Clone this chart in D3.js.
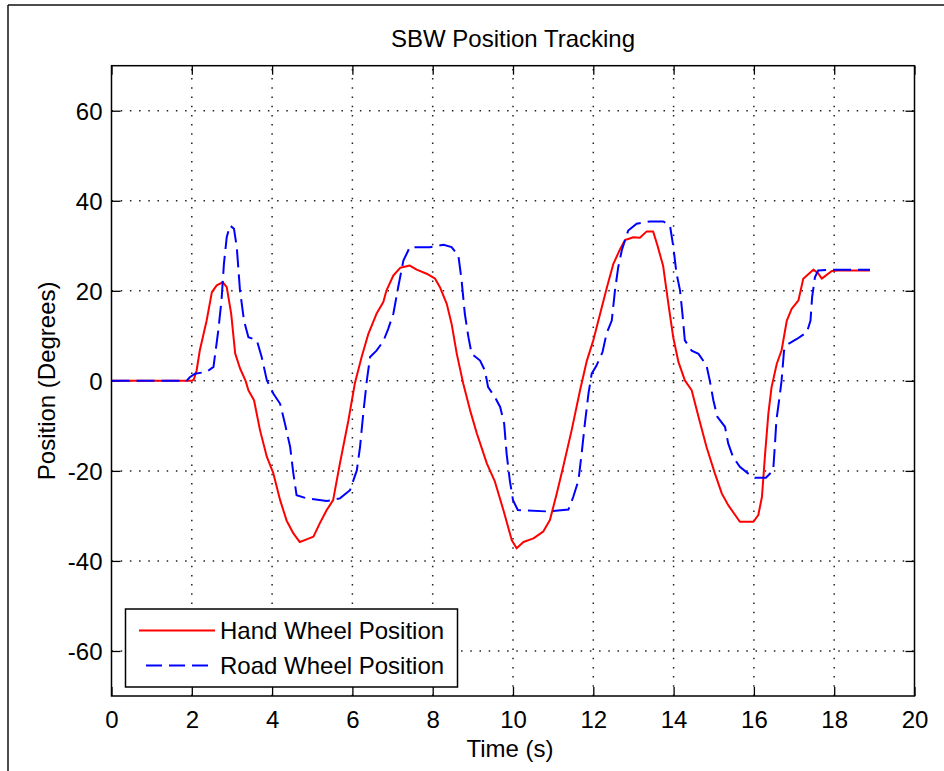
<!DOCTYPE html>
<html>
<head>
<meta charset="utf-8">
<script src="https://cdn.jsdelivr.net/npm/d3@7"></script>
<style>
  html, body { margin: 0; padding: 0; background: #fff; }
  svg { display: block; }
  text { font-family: "Liberation Sans", Arial, sans-serif; fill: #000; }
</style>
</head>
<body>
<svg id="chart" width="944" height="771"></svg>
<script>
// ---- Data ----
const titleText = "SBW Position Tracking";
const xLabel = "Time (s)";
const yLabel = "Position (Degrees)";
const seriesNames = ["Hand Wheel Position", "Road Wheel Position"];
const xTicks = [0, 2, 4, 6, 8, 10, 12, 14, 16, 18, 20];
const yTicks = [-60, -40, -20, 0, 20, 40, 60];
const xTickLabels = ["0", "2", "4", "6", "8", "10", "12", "14", "16", "18", "20"];
const yTickLabels = ["-60", "-40", "-20", "0", "20", "40", "60"];

const handTime = [0, 2.0, 2.05, 2.12, 2.2, 2.37, 2.5, 2.62, 2.77, 2.87, 2.98, 3.08, 3.2, 3.34, 3.41, 3.55, 3.7, 3.87, 4.03, 4.2, 4.36, 4.53, 4.69, 4.86, 5.03, 5.19, 5.36, 5.52, 5.69, 5.9, 6.06, 6.23, 6.4, 6.6, 6.77, 6.85, 7.02, 7.19, 7.43, 7.6, 7.85, 8.06, 8.18, 8.35, 8.47, 8.6, 8.76, 8.93, 9.1, 9.35, 9.55, 9.76, 9.97, 10.09, 10.26, 10.51, 10.75, 10.92, 11.09, 11.25, 11.46, 11.67, 11.84, 12.0, 12.17, 12.34, 12.5, 12.67, 12.79, 13.0, 13.16, 13.33, 13.49, 13.6, 13.74, 13.87, 13.99, 14.12, 14.28, 14.45, 14.62, 14.82, 15.03, 15.2, 15.36, 15.65, 15.99, 16.11, 16.2, 16.28, 16.36, 16.44, 16.57, 16.69, 16.82, 16.94, 17.11, 17.23, 17.48, 17.6, 17.69, 17.94, 18.1, 18.89];
const handPos = [0, 0, 0.3, 2.3, 6.8, 13.4, 19.7, 21.2, 21.9, 20.8, 15, 6.1, 2.8, 0, -2.1, -4.3, -11, -16.9, -20.5, -26.5, -31, -33.9, -35.8, -35.2, -34.6, -31.6, -28.7, -26.5, -18.3, -8.8, -0.6, 5.3, 10.5, 14.9, 17.5, 20.1, 23.4, 25.1, 25.6, 24.7, 23.8, 22.7, 20.8, 17.1, 12.7, 6, -0.6, -6.5, -11.7, -18.4, -22.4, -28.7, -35.4, -37.2, -35.8, -35, -33.5, -30.9, -25, -19.1, -11, -2.1, 4.5, 9, 14.9, 20.8, 26, 29.3, 31.3, 31.9, 31.8, 33.2, 33.2, 30, 25.5, 17.1, 9.7, 4.2, 0.1, -2.1, -8, -14.7, -20.6, -25, -27.6, -31.3, -31.3, -29.8, -25.8, -16.1, -7.3, -1.4, 3.8, 6.8, 13.4, 16, 17.9, 22.7, 24.7, 23.9, 22.7, 24.4, 24.5, 24.5];

const roadTime = [0, 1.87, 1.95, 2.08, 2.37, 2.54, 2.66, 2.74, 2.8, 2.87, 2.95, 3.05, 3.12, 3.2, 3.3, 3.41, 3.62, 3.74, 3.87, 4.03, 4.2, 4.32, 4.45, 4.53, 4.61, 4.86, 5.36, 5.69, 5.94, 6.11, 6.19, 6.27, 6.36, 6.44, 6.6, 6.77, 6.89, 7.02, 7.14, 7.27, 7.43, 7.93, 8.27, 8.47, 8.64, 8.72, 8.8, 8.89, 8.97, 9.18, 9.3, 9.38, 9.55, 9.68, 9.78, 9.84, 9.92, 10.0, 10.12, 10.84, 11.38, 11.5, 11.63, 11.71, 11.79, 11.88, 11.96, 12.08, 12.23, 12.33, 12.46, 12.54, 12.62, 12.71, 12.87, 13.08, 13.41, 13.74, 13.91, 13.99, 14.07, 14.16, 14.22, 14.28, 14.45, 14.62, 14.82, 14.9, 14.99, 15.09, 15.28, 15.36, 15.48, 15.65, 15.86, 16.02, 16.3, 16.48, 16.52, 16.56, 16.65, 16.69, 16.75, 16.86, 17.07, 17.32, 17.41, 17.45, 17.52, 17.6, 17.94, 18.89];
const roadPos = [0, 0, 0.8, 1.6, 2.0, 3.1, 11.2, 17.9, 26, 31.9, 34.5, 33.8, 29.7, 20.1, 13.4, 9.7, 9, 5.3, 0.1, -2.8, -5.1, -9.5, -14.7, -20.6, -25.4, -26.1, -26.7, -26.1, -24.3, -19.9, -14.7, -7.3, 0.1, 5.3, 6.7, 8.8, 11.5, 14.9, 20.8, 26.7, 29.7, 29.7, 30.2, 29.7, 27.8, 22.3, 14.9, 9.7, 6, 4.5, 2.3, -1.4, -3.6, -5.8, -9.5, -16.1, -22.1, -26.5, -28.7, -29, -28.6, -25.8, -22.1, -16.1, -9.5, -2.8, 1.6, 3.4, 6.4, 10.5, 13.4, 20.1, 25.2, 29, 33.4, 34.9, 35.4, 35.4, 34.5, 30, 24, 20.1, 14.9, 9, 6.7, 6, 3.4, 0.1, -4.3, -8, -10.2, -13.9, -16.9, -19.1, -20.6, -21.5, -21.5, -19.9, -14.7, -8.8, -2.8, 0.1, 6.7, 8.2, 9.3, 10.8, 13.4, 18.6, 23, 24.5, 24.7, 24.7];

const seriesColors = ["#ff0000", "#0000ff"];

// ---- Layout ----
const svg = d3.select("#chart");
const L = 111.5, R = 914.5, T = 65.7, B = 696;
const x = d3.scaleLinear().domain([0, 20]).range([L, R]);
const y = d3.scaleLinear().domain([-70, 70]).range([B, T]);
const FS = 24;

// figure frame (top and left edges visible)
svg.append("line").attr("x1", 8).attr("y1", 5).attr("x2", 944).attr("y2", 5)
  .attr("stroke", "#111").attr("stroke-width", 1.5);
svg.append("line").attr("x1", 8).attr("y1", 5).attr("x2", 8).attr("y2", 771)
  .attr("stroke", "#111").attr("stroke-width", 1.5);

// grid
const grid = svg.append("g").attr("stroke", "#222").attr("stroke-width", 1.5)
  .attr("stroke-dasharray", "1.5,7.7").attr("fill", "none");
xTicks.filter(d => d > 0 && d < 20).forEach(d => {
  grid.append("line").attr("x1", x(d)).attr("x2", x(d)).attr("y1", B).attr("y2", T);
});
yTicks.forEach(d => {
  grid.append("line").attr("y1", y(d)).attr("y2", y(d)).attr("x1", L).attr("x2", R);
});

// axes (ticks inside, MATLAB style)
const tk = 9;
const fmtX = d => xTickLabels[xTicks.indexOf(d)];
const fmtY = d => yTickLabels[yTicks.indexOf(d)];
const gx = svg.append("g").attr("transform", `translate(0,${B})`)
  .call(d3.axisBottom(x).tickValues(xTicks).tickFormat(fmtX).tickSizeInner(-tk).tickSizeOuter(0).tickPadding(15));
const gxt = svg.append("g").attr("transform", `translate(0,${T})`)
  .call(d3.axisTop(x).tickValues(xTicks).tickFormat("").tickSizeInner(-tk).tickSizeOuter(0));
const gy = svg.append("g").attr("transform", `translate(${L},0)`)
  .call(d3.axisLeft(y).tickValues(yTicks).tickFormat(fmtY).tickSizeInner(-tk).tickSizeOuter(0).tickPadding(9));
const gyr = svg.append("g").attr("transform", `translate(${R},0)`)
  .call(d3.axisRight(y).tickValues(yTicks).tickFormat("").tickSizeInner(-tk).tickSizeOuter(0));
[gx, gxt, gy, gyr].forEach(g => {
  g.select(".domain").remove();
  g.selectAll(".tick line").attr("stroke", "#000").attr("stroke-width", 1.3);
  g.selectAll("text").attr("font-size", FS).attr("font-family", '"Liberation Sans", Arial, sans-serif').attr("fill", "#000");
});
gy.selectAll("text").attr("dy", "0.36em");

// lines
const lineGen = d3.line().x(d => x(d[0])).y(d => y(d[1]));
const handData = handTime.map((t, i) => [t, handPos[i]]);
const roadData = roadTime.map((t, i) => [t, roadPos[i]]);

svg.append("path").datum(handData).attr("d", lineGen)
  .attr("fill", "none").attr("stroke", seriesColors[0]).attr("stroke-width", 2).attr("stroke-linejoin", "round");
svg.append("path").datum(roadData).attr("d", lineGen)
  .attr("fill", "none").attr("stroke", seriesColors[1]).attr("stroke-width", 2)
  .attr("stroke-dasharray", "18,7");

// axes box
svg.append("rect").attr("x", L).attr("y", T).attr("width", R - L).attr("height", B - T)
  .attr("fill", "none").attr("stroke", "#000").attr("stroke-width", 1.5);

// title & labels
svg.append("text").attr("x", (L + R) / 2).attr("y", 47).attr("text-anchor", "middle")
  .attr("font-size", FS).text(titleText);
svg.append("text").attr("x", (L + R) / 2 - 3).attr("y", 757).attr("text-anchor", "middle")
  .attr("font-size", FS).text(xLabel);
svg.append("text").attr("transform", `translate(55,${(T + B) / 2}) rotate(-90)`)
  .attr("text-anchor", "middle").attr("font-size", FS).text(yLabel);

// legend
const lg = svg.append("g");
lg.append("rect").attr("x", 125.5).attr("y", 609).attr("width", 332).attr("height", 78)
  .attr("fill", "#fff").attr("stroke", "#000").attr("stroke-width", 1.5);
const rowsY = [630.5, 665.5];
seriesNames.forEach((name, i) => {
  const ln = lg.append("line").attr("x1", 139).attr("x2", 215).attr("y1", rowsY[i]).attr("y2", rowsY[i])
    .attr("stroke", seriesColors[i]).attr("stroke-width", 2);
  if (i === 1) ln.attr("stroke-dasharray", "16,7").attr("x1", 146);
  lg.append("text").attr("x", 220).attr("y", rowsY[i]).attr("dy", "0.36em")
    .attr("font-size", FS).text(name);
});
</script>
</body>
</html>
